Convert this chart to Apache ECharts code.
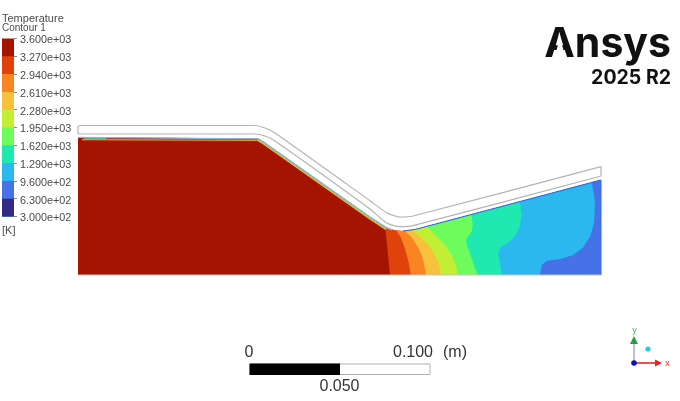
<!DOCTYPE html>
<html>
<head>
<meta charset="utf-8">
<script src="https://cdn.jsdelivr.net/npm/echarts@6/dist/echarts.min.js"></script>
<style>
	html,body{margin:0;padding:0;background:#fff;}
	#chart{width:680px;height:401px;}
</style>
</head>
<body>
<div id="chart"></div>
<script type="text/javascript">
	// colour bar, top band first
	var levels = [3600,3270,2940,2610,2280,1950,1620,1290,960,630];
	var levelLabels = ['3.600e+03','3.270e+03','2.940e+03','2.610e+03','2.280e+03','1.950e+03','1.620e+03','1.290e+03','9.600e+02','6.300e+02','3.000e+02'];
	var levelTicks = [3600,3270,2940,2610,2280,1950,1620,1290,960,630,300];
	var bandColors = ['#a51400','#e0420c','#fb8422','#f8c13c','#c2ef33','#6efc5c','#1fe8b0','#2ab8ef','#4672e8','#322a84'];

	// geometry in scene units, 181 units = 0.100 m, origin at lower left of the fluid zone
	var surface = [[0,138],[180,136.5],[186,133],[292,58.3],[308.7,47.5],[317,44.5],[325,44],[337,45.5],[523,95]];
	var shellOuter = [[0,141],[0,148],[2,149.5],[177,149.5],[187,147],[197,142],[292,74.3],[309,62],[322,58],[335,59],[523,108.3],[523,99]];
	var shellInner = [[0,141],[177,141],[187,139],[197,134],[292,66],[308.7,52],[322,48.3],[335,49.3],[523,99]];

	// contour boundaries, surface to bottom, hottest first
	var contour3270 = [[307,48.5],[308,40],[308.7,33.3],[309.7,23.3],[310.7,13.3],[312,0]];
	var contour2940 = [[318.7,44.3],[322.7,37.7],[326.3,28.3],[329.3,18.3],[331.3,10],[332.7,0]];
	var contour2610 = [[327,44],[333.7,37.7],[339.7,28.3],[343.7,20],[346.3,10],[348,0]];
	var contour2280 = [[333.7,45],[342,38.3],[350.3,30],[357,20],[361,10],[363,0]];
	var contour1950 = [[348.7,48.6],[357,40],[367,30],[373.7,20],[377.7,10],[380,0]];
	var contour1620 = [[393.7,60.6],[394.7,50],[393.7,43.3],[390.3,39],[388,34.3],[389.7,27.7],[393.7,16.7],[397,6.7],[399.7,0]];
	var contour1290 = [[442,73.4],[443.7,60],[442,50],[437.7,40],[430.3,32.3],[422.7,27.7],[420.3,21.7],[422,11.7],[423.7,0]];
	var contour960 = [[513.7,92.5],[516,80],[517,70],[516,51.7],[512,38.3],[505.3,27.7],[495.3,20],[482,16],[468.7,14.3],[463.7,10],[462,0]];

	// thin boundary layer strips along the wall
	var stripBlue = [[0,137.6],[180,136.2],[186,132.8],[292,58],[308.7,47.2],[314,45.2]];
	var stripGreen = [[180,135.5],[186,132],[292,57.2],[308,46.6]];
	var stripTeal = [[6,136.8],[28,136.6]];
	var stripOrange = [[4,135.4],[180,134.6]];
	var stripYellow = [[180,134.6],[186,130.8],[292,56],[308,45.6]];
	var stripRight = [[325,44],[337,45.5],[523,95]];

	var scaleLength = 0.1;
	var scaleHalf = 0.05;

	function zonePolygon(boundary){
		var startX = boundary[0][0];
		var pts = boundary.concat([[523,0]]);
		var rest = [];
		for (var i=0;i<surface.length;i++){
			if (surface[i][0]>startX) rest.push(surface[i]);
		}
		rest.reverse();
		return pts.concat(rest);
	}
	var zones = [
		surface.concat([[523,0],[0,0]]),
		zonePolygon(contour3270),zonePolygon(contour2940),zonePolygon(contour2610),zonePolygon(contour2280),
		zonePolygon(contour1950),zonePolygon(contour1620),zonePolygon(contour1290),zonePolygon(contour960)
	];

	function edgeLine(data,color,width,smooth){
		return {type:'line',xAxisIndex:0,yAxisIndex:0,data:data,symbol:'none',silent:true,z:5,smooth:smooth||false,
			lineStyle:{color:color,width:width}};
	}

	var series = [{
		type:'custom',xAxisIndex:0,yAxisIndex:0,silent:true,z:2,clip:false,
		data:zones.map(function(z,i){return [i];}),
		renderItem:function(params,api){
			var i = params.dataIndex;
			return {type:'polygon',
				shape:{points:zones[i].map(function(p){return api.coord(p);})},
				style:{fill:bandColors[i],stroke:null}};
		}
	},
	edgeLine([[523,95],[523,0]],'#3f66dc',1),
	edgeLine([[0,0],[523,0]],'#c4c4c4',1),
	edgeLine(stripOrange,'#e8a010',1.2),
	edgeLine(stripYellow,'#f0d020',1.3),
	edgeLine(stripGreen,'#5fe89a',1),
	edgeLine(stripBlue,'#8db6ea',1.3),
	edgeLine(stripTeal,'#3fd8b0',1),
	edgeLine(stripRight,'#2a68e4',1.1),
	edgeLine(shellOuter,'#b4b4b4',1.2,0.2),
	edgeLine(shellInner,'#b4b4b4',1.2,0.2)];

	// colour bar, each bar overpainted by the next lower band
	levels.forEach(function(v,i){
		series.push({type:'bar',xAxisIndex:1,yAxisIndex:1,data:[v],barWidth:'100%',barGap:'-100%',
			silent:true,itemStyle:{color:bandColors[i]},z:3+i*0.01});
	});
	// scale bar
	series.push({type:'bar',xAxisIndex:2,yAxisIndex:2,data:[scaleLength],barWidth:'100%',barGap:'-100%',silent:true,
		itemStyle:{color:'#fff',borderColor:'#b0b0b0',borderWidth:1}});
	series.push({type:'bar',xAxisIndex:2,yAxisIndex:2,data:[scaleHalf],barWidth:'100%',barGap:'-100%',silent:true,
		itemStyle:{color:'#000'}});

	var sans = '"Liberation Sans",Arial,sans-serif';
	function label(x,y,text,size,color,align){
		return {type:'text',x:x,y:y,silent:true,style:{text:text,fill:color,font:size+'px '+sans,textAlign:align||'left',textVerticalAlign:'middle'}};
	}
	function stick(x1,y1,x2,y2,color){
		return {type:'line',silent:true,shape:{x1:x1,y1:y1,x2:x2,y2:y2},style:{stroke:color,lineWidth:1.6}};
	}

	var option = {
		animation:false,
		backgroundColor:'#fff',
		grid:[
			{left:0,right:0,top:0,bottom:0},
			{left:2,top:38.5,width:12,height:178},
			{left:249.5,top:363.5,width:181,height:11.5},
			{left:2,top:40.5,width:12,height:178} // tick labels sit a little under their ticks
		],
		xAxis:[
			{type:'value',min:-78,max:602,show:false,gridIndex:0},
			{type:'category',data:['T'],show:false,gridIndex:1},
			{type:'value',min:0,max:scaleLength,show:false,gridIndex:2},
			{type:'category',data:['T'],show:false,gridIndex:3}
		],
		yAxis:[
			{type:'value',min:-126,max:275,show:false,gridIndex:0},
			{type:'value',min:300,max:3600,gridIndex:1,position:'right',
				axisLine:{show:false},splitLine:{show:false},axisLabel:{show:false},
				axisTick:{show:true,length:3,customValues:levelTicks,lineStyle:{color:'#888',width:1}}},
			{type:'category',data:['m'],show:false,gridIndex:2},
			{type:'value',min:300,max:3600,gridIndex:3,position:'right',
				axisLine:{show:false},splitLine:{show:false},axisTick:{show:false},
				axisLabel:{show:true,margin:6,customValues:levelTicks,color:'#4a4a4a',fontFamily:'Liberation Sans',fontSize:10.8,
					formatter:function(v){return levelLabels[levelTicks.indexOf(v)];}}}
		],
		series:series,
		graphic:[
			label(2,19,'Temperature',11,'#4a4a4a'),
			label(2,28.5,'Contour 1',10,'#4a4a4a'),
			label(2,230.5,'[K]',11,'#4a4a4a'),
			label(249,353,'0',16,'#333','center'),
			label(413,353,'0.100',16,'#333','center'),
			label(443,353,'(m)',16,'#333'),
			label(339.5,387,'0.050',16,'#333','center'),
			{type:'text',x:671,y:65,silent:true,style:{text:'Ansys',fill:'#111',font:'700 41px Inter',textAlign:'right',textVerticalAlign:'bottom'}},
			// the logo A has no crossbar
			{type:'polygon',silent:true,z:10,shape:{points:[[560,37.5],[554.5,57.5],[565.5,57.5]]},style:{fill:'#fff'}},
			{type:'text',x:671,y:88,silent:true,style:{text:'2025 R2',fill:'#111',font:'700 19.5px Inter',textAlign:'right',textVerticalAlign:'bottom'}},
			stick(634,363,634,341,'#a9b8a9'),
			stick(634,363,656,363,'#ee2020'),
			{type:'polygon',silent:true,shape:{points:[[630,344],[638,344],[634,336]]},style:{fill:'#20a040'}},
			{type:'polygon',silent:true,shape:{points:[[655,359.5],[655,366.5],[662,363]]},style:{fill:'#ee2020'}},
			{type:'circle',silent:true,shape:{cx:634,cy:363,r:2.8},style:{fill:'#0a10c0'}},
			{type:'circle',silent:true,shape:{cx:648,cy:349,r:2.6},style:{fill:'#18d0e0'}},
			label(634.5,331,'y',9,'#40b060','center'),
			label(667.5,364,'x',9,'#f03030','center')
		]
	};

	var thechart = echarts.init(document.getElementById('chart'));
	thechart.setOption(option);
</script>
</body>
</html>
